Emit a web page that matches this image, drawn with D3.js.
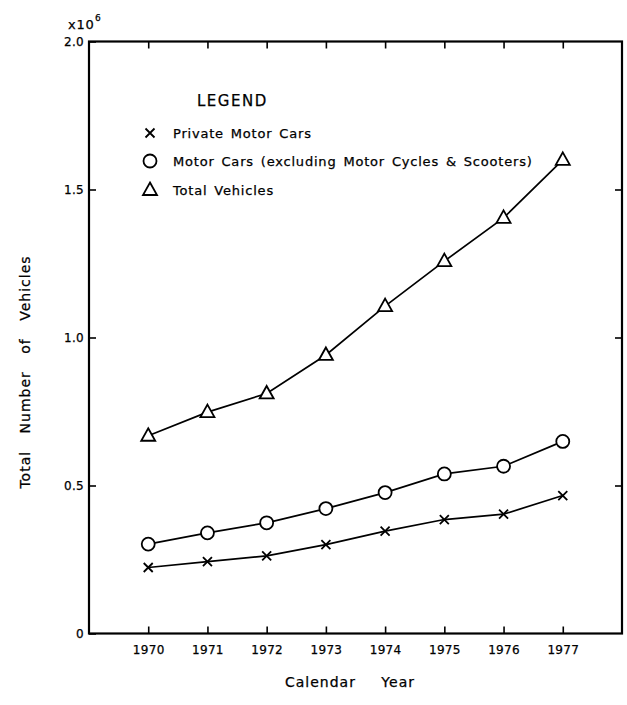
<!DOCTYPE html>
<html>
<head>
<meta charset="utf-8">
<script src="https://cdn.jsdelivr.net/npm/d3@7"></script>
<style>
  body { margin: 0; background: #fff; }
  svg { display: block; font-family: "DejaVu Sans", sans-serif; }
  text { fill: #000; stroke: #000; stroke-width: 0.25; }
</style>
</head>
<body>
<svg id="chart" width="627" height="705"></svg>
<script>
const years = [1970, 1971, 1972, 1973, 1974, 1975, 1976, 1977]
const privateCars = [0.223, 0.243, 0.262, 0.300, 0.346, 0.385, 0.403, 0.466]
const motorCars = [0.302, 0.340, 0.374, 0.422, 0.476, 0.539, 0.565, 0.649]
const totalVehicles = [0.668, 0.748, 0.811, 0.941, 1.106, 1.258, 1.404, 1.600]
const yTicks = [0, 0.5, 1.0, 1.5, 2.0]
const yTickLabels = ["0", "0.5", "1.0", "1.5", "2.0"]
const legendLabels = ["Private Motor Cars", "Motor Cars (excluding Motor Cycles & Scooters)", "Total Vehicles"]

const mLeft = 89, mRight = 622, mTop = 41.5, mBottom = 633.5

const svg = d3.select('#chart')

const x = d3.scaleLinear().domain([1969, 1978]).range([mLeft, mRight])
const y = d3.scaleLinear().domain([0, 2]).range([mBottom, mTop])

// frame
svg.append('rect')
    .attr('x', mLeft).attr('y', mTop)
    .attr('width', mRight - mLeft).attr('height', mBottom - mTop)
    .attr('fill', 'none').attr('stroke', '#000').attr('stroke-width', 2.2)

// inward ticks on all four sides
const tk = 7
svg.append('g').attr('transform', `translate(0,${mBottom})`)
    .call(d3.axisBottom(x).tickValues(years).tickSize(-tk).tickFormat(d => d).tickPadding(12))
svg.append('g').attr('transform', `translate(0,${mTop})`)
    .call(d3.axisTop(x).tickValues(years).tickSize(-tk).tickFormat(''))
svg.append('g').attr('transform', `translate(${mLeft},0)`)
    .call(d3.axisLeft(y).tickValues(yTicks).tickSize(-tk).tickFormat((d, i) => yTickLabels[i]).tickPadding(5))
svg.append('g').attr('transform', `translate(${mRight},0)`)
    .call(d3.axisRight(y).tickValues(yTicks.slice(1, 4)).tickSize(-tk).tickFormat(''))

svg.selectAll('.domain').remove()
svg.selectAll('.tick line').attr('stroke', '#000').attr('stroke-width', 1.6)
svg.selectAll('.tick text').attr('font-size', 12).attr('fill', '#000')
    .attr('font-family', '"DejaVu Sans", sans-serif').attr('letter-spacing', 0.3)

// multiplier
svg.append('text').attr('x', 68).attr('y', 29).attr('font-size', 13).attr('letter-spacing', 0.8).text('x10')
svg.append('text').attr('x', 95).attr('y', 21).attr('font-size', 9).text('6')

// axis titles
svg.append('text').attr('x', 350).attr('y', 687).attr('text-anchor', 'middle')
    .attr('font-size', 14).attr('letter-spacing', 1).attr('word-spacing', 20).text('Calendar Year')
svg.append('text').attr('transform', 'translate(30,372) rotate(-90)').attr('text-anchor', 'middle')
    .attr('font-size', 14).attr('letter-spacing', 1).attr('word-spacing', 12).text('Total Number of Vehicles')

// series
const line = d3.line().x((d, i) => x(years[i])).y(d => y(d))
const series = [privateCars, motorCars, totalVehicles]
const g = svg.append('g')
series.forEach(s => {
    g.append('path').attr('d', line(s))
        .attr('fill', 'none').attr('stroke', '#000').attr('stroke-width', 1.7)
})

function marker(sel, type) {
    if (type === 0) {
        const r = 4.5
        sel.append('path').attr('d', `M${-r},${-r}L${r},${r}M${-r},${r}L${r},${-r}`)
            .attr('stroke', '#000').attr('stroke-width', 1.8).attr('fill', 'none')
    } else if (type === 1) {
        sel.append('circle').attr('r', 6.5)
            .attr('fill', '#fff').attr('stroke', '#000').attr('stroke-width', 1.8)
    } else {
        sel.append('path').attr('d', 'M0,-7.5L7,5L-7,5Z')
            .attr('fill', '#fff').attr('stroke', '#000').attr('stroke-width', 1.8)
    }
}

series.forEach((s, k) => {
    g.selectAll(null).data(s).join('g')
        .attr('transform', (d, i) => `translate(${x(years[i])},${y(d)})`)
        .each(function () { marker(d3.select(this), k) })
})

// legend
svg.append('text').attr('x', 197).attr('y', 106).attr('font-size', 15).attr('letter-spacing', 1.5).text('LEGEND')
const legendY = [133, 161, 190]
legendLabels.forEach((t, k) => {
    const lg = svg.append('g').attr('transform', `translate(150,${legendY[k]})`)
    marker(lg, k)
    lg.append('text').attr('x', 23).attr('y', 5).attr('font-size', 13)
        .attr('letter-spacing', 0.8).attr('word-spacing', 2).text(t)
})
</script>
</body>
</html>
